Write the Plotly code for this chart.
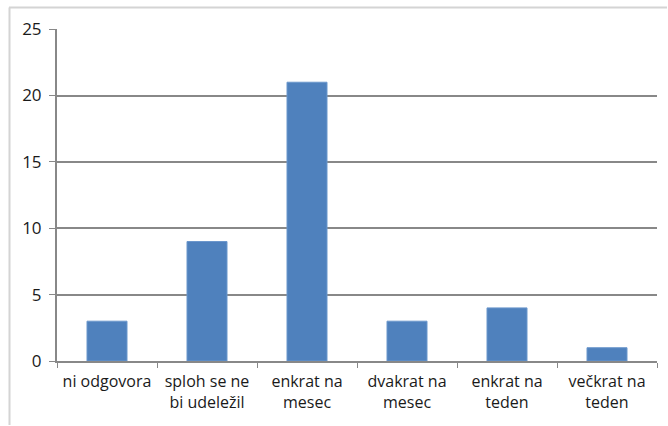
import plotly.graph_objects as go

categories = ["ni odgovora", "sploh se ne<br>bi udeležil", "enkrat na<br>mesec", "dvakrat na<br>mesec", "enkrat na<br>teden", "večkrat na<br>teden"]
values = [3, 9, 21, 3, 4, 1]
y_ticks = [0, 5, 10, 15, 20, 25]

fig = go.Figure(go.Bar(
    x=categories, y=values, width=0.4,
    marker=dict(color="#4F81BD", line=dict(color="#6b97cc", width=1)),
))

W, H = 668, 426
l, t, r, b = 57, 29, 11, 65
pw, ph = W - l - r, H - t - b

fig.update_layout(
    width=W, height=H,
    margin=dict(l=l, r=r, t=t, b=b, autoexpand=False),
    plot_bgcolor="white", paper_bgcolor="white",
    font=dict(family="Open Sans, Noto Sans, sans-serif", size=16, color="#1a1a1a"),
    showlegend=False,
    xaxis=dict(
        showline=True, linecolor="#888", linewidth=2,
        ticks="outside", ticklen=5, tickcolor="#888", tickwidth=1,
        tickson="boundaries", showgrid=False, automargin=False,
        tickfont=dict(size=16), ticklabelstandoff=5,
    ),
    yaxis=dict(
        range=[0, 25.01], tickvals=y_ticks,
        showline=True, linecolor="#888", linewidth=2,
        ticks="outside", ticklen=6, tickcolor="#888",
        showgrid=True, gridcolor="#888", gridwidth=1.5,
        zeroline=False, tickfont=dict(size=17), automargin=False,
        ticklabelstandoff=4,
    ),
    shapes=[
        dict(type="line", xref="paper", yref="paper", layer="above",
             x0=(9 - l) / pw, x1=(W - 1 - l) / pw,
             y0=1 + (t - 7.5) / ph, y1=1 + (t - 7.5) / ph,
             line=dict(color="#d4d4d4", width=2)),
        dict(type="line", xref="paper", yref="paper", layer="above",
             x0=(9.5 - l) / pw, x1=(9.5 - l) / pw,
             y0=1 + (t - 7.5) / ph, y1=-(b - 1) / ph,
             line=dict(color="#d4d4d4", width=2)),
    ],
)

fig.write_html(
    "out.html",
    config={"displayModeBar": False},
    post_script="document.body.style.margin='0';document.body.style.padding='0';",
)
